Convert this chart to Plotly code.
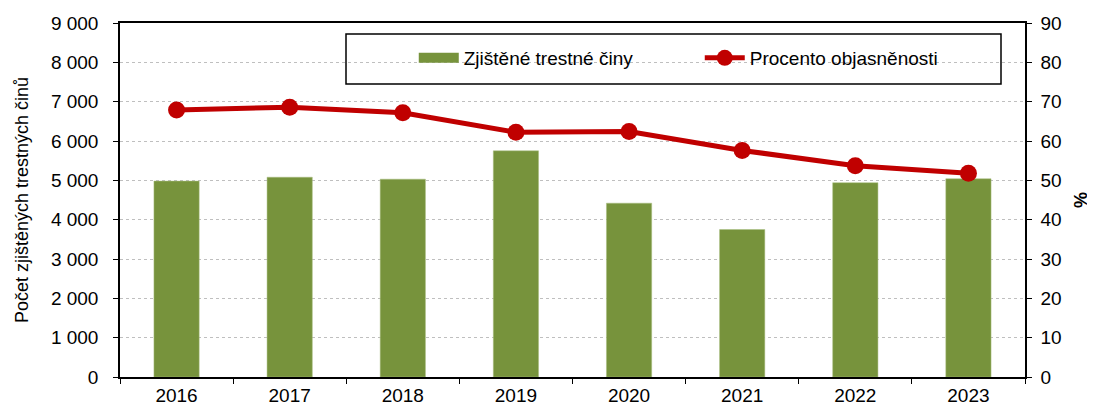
import plotly.graph_objects as go

years = ["2016", "2017", "2018", "2019", "2020", "2021", "2022", "2023"]
crimes = [4980, 5080, 5030, 5750, 4420, 3750, 4940, 5040]
clearance = [67.9, 68.6, 67.2, 62.2, 62.4, 57.6, 53.7, 51.8]

bar_name = "Zjištěné trestné činy"
line_name = "Procento objasněnosti"
left_title = "Počet zjištěných trestných činů"
right_title = "%"

FONT = "Liberation Sans, Arial, sans-serif"
GREEN = "#77933C"
RED = "#C00000"

fig = go.Figure()
fig.add_trace(go.Bar(
    x=years, y=crimes, name=bar_name, showlegend=False,
    marker=dict(color=GREEN, line=dict(width=0.5, color="#A8BF80")),
    width=0.4, yaxis="y",
))
# legend proxy for the bar series (wide flat swatch as in the original)
fig.add_trace(go.Scatter(
    x=[None], y=[None], name=bar_name, mode="lines",
    line=dict(color=GREEN, width=10), yaxis="y", hoverinfo="skip",
))
fig.add_trace(go.Scatter(
    x=years, y=clearance, name=line_name, mode="lines+markers",
    line=dict(color=RED, width=5),
    marker=dict(color=RED, size=17),
    yaxis="y2",
))

# page body adds an 8px margin, so the figure is sized/offset to compensate
fig.update_layout(
    width=1087, height=399,
    margin=dict(l=112, r=70, t=15, b=30, autoexpand=False),
    paper_bgcolor="white", plot_bgcolor="white",
    separators=", ",
    font=dict(family=FONT, size=19, color="#000000"),
    showlegend=True,
    legend=dict(
        orientation="h", x=0.3246, y=(377 - 58) / 354, xanchor="left", yanchor="middle",
        bgcolor="rgba(0,0,0,0)", borderwidth=0,
        font=dict(family=FONT, size=19),
        entrywidth=231, entrywidthmode="pixels",
        itemwidth=40,
    ),
    xaxis=dict(
        type="category", showline=True, linecolor="black", linewidth=1.5,
        mirror=True, ticks="outside", ticklen=5, tickcolor="black",
        tickson="boundaries", showgrid=False, automargin=False,
        ticklabelstandoff=0,
        tickfont=dict(family=FONT, size=19),
    ),
    yaxis=dict(
        range=[0, 9000], dtick=1000, tickformat=",d",
        showline=True, linecolor="black", linewidth=1.5,
        ticks="outside", ticklen=5, tickcolor="black",
        showgrid=True, gridcolor="#BFBFBF", griddash="dot", gridwidth=1,
        zeroline=False, automargin=False, ticklabelstandoff=11,
        title=dict(text=left_title, font=dict(family=FONT, size=18), standoff=18),
        tickfont=dict(family=FONT, size=19),
    ),
    yaxis2=dict(
        range=[0, 90], dtick=10, overlaying="y", side="right",
        showline=True, linecolor="black", linewidth=1.5,
        ticks="outside", ticklen=5, tickcolor="black",
        showgrid=False, zeroline=False, automargin=False, ticklabelstandoff=5,
        title=dict(text="<b>" + right_title + "</b>", font=dict(family=FONT, size=18), standoff=14),
        tickfont=dict(family=FONT, size=19),
    ),
    shapes=[dict(
        type="rect", xref="paper", yref="paper",
        x0=(346 - 120) / 905, x1=(1001 - 120) / 905,
        y0=(377 - 84) / 354, y1=(377 - 34) / 354,
        line=dict(color="black", width=1.5), fillcolor="white", layer="below",
    )],
)

fig.write_html("out.html")
